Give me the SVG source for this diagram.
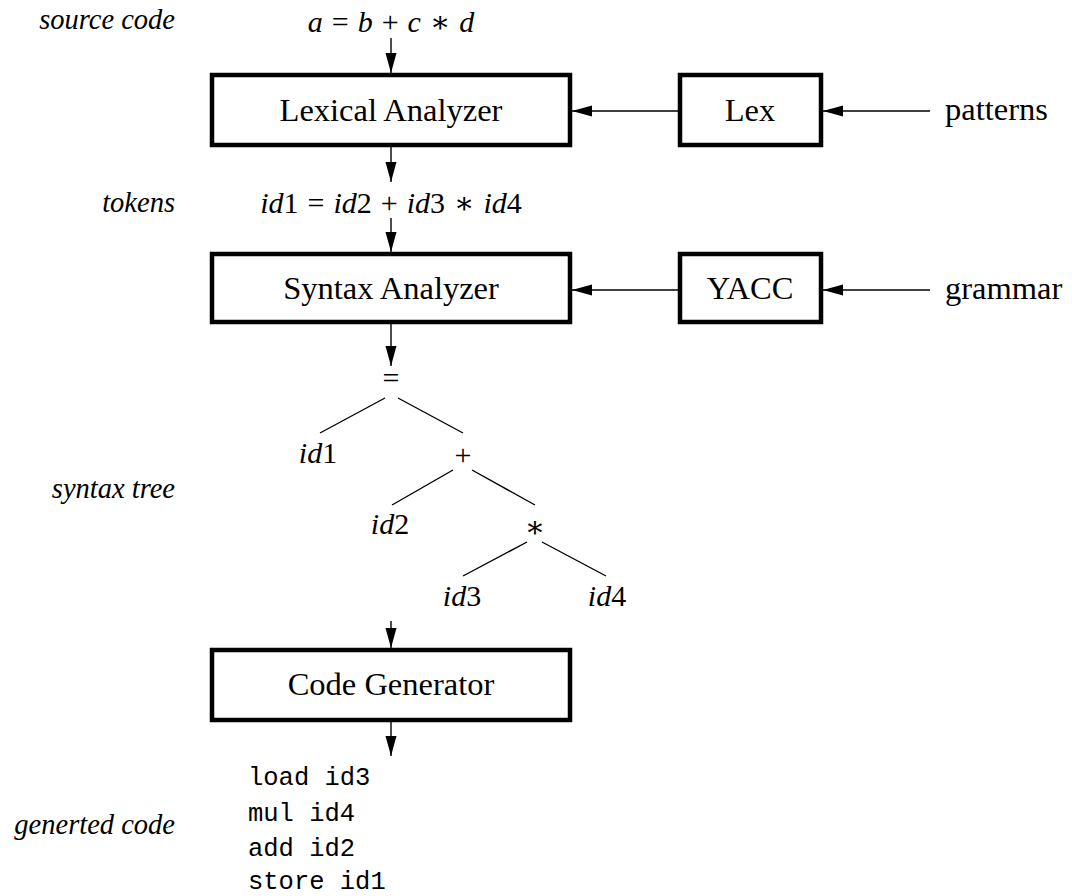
<svg xmlns="http://www.w3.org/2000/svg" width="1072" height="896" viewBox="0 0 1072 896">
<defs>
<marker id="ah" markerUnits="userSpaceOnUse" markerWidth="20" markerHeight="12" refX="20" refY="5.5" orient="auto">
<path d="M0,0 L20,5.5 L0,11 z" fill="#000"/>
</marker>
<style>
.box{fill:#fff;stroke:#000;stroke-width:4.5}
.lbl{font-family:"Liberation Serif","DejaVu Serif",serif;font-size:32.5px;fill:#000}
.side{font-family:"Liberation Serif","DejaVu Serif",serif;font-size:28.5px;font-style:italic;fill:#000;text-anchor:end}
.math{font-family:"Liberation Serif","DejaVu Serif",serif;font-size:30px;fill:#000;text-anchor:middle;word-spacing:1.5px}
.math .v{font-style:italic}
.code{font-family:"Liberation Mono","DejaVu Sans Mono",monospace;font-size:25.5px;fill:#000}
.arr{stroke:#000;stroke-width:1.4;fill:none;marker-end:url(#ah)}
.edge{stroke:#000;stroke-width:1.4;fill:none}
.c{text-anchor:middle}
</style>
</defs>
<rect width="1072" height="896" fill="#fff"/>

<g id="side-labels">
<text class="side" x="175" y="29">source code</text>
<text class="side" x="175" y="212">tokens</text>
<text class="side" x="175" y="498">syntax tree</text>
<text class="side" x="175" y="834">generted code</text>
</g>

<g id="source-expr">
<text class="math" x="391" y="32"><tspan class="v">a</tspan> = <tspan class="v">b</tspan> + <tspan class="v">c</tspan> ∗ <tspan class="v">d</tspan></text>
</g>

<g id="lexical-analyzer">
<rect class="box" x="212" y="75" width="358" height="70"/>
<text class="lbl c" x="391" y="121">Lexical Analyzer</text>
</g>

<g id="lex">
<rect class="box" x="680" y="75" width="141" height="70"/>
<text class="lbl c" x="750" y="121">Lex</text>
</g>

<g id="patterns">
<text class="lbl" x="945" y="120">patterns</text>
</g>

<g id="tokens-expr">
<text class="math" x="391" y="213"><tspan class="v">id</tspan>1 = <tspan class="v">id</tspan>2 + <tspan class="v">id</tspan>3 ∗ <tspan class="v">id</tspan>4</text>
</g>

<g id="syntax-analyzer">
<rect class="box" x="212" y="254" width="358" height="68"/>
<text class="lbl c" x="391" y="299">Syntax Analyzer</text>
</g>

<g id="yacc">
<rect class="box" x="680" y="254" width="141" height="68"/>
<text class="lbl c" x="750" y="299">YACC</text>
</g>

<g id="grammar">
<text class="lbl" x="945" y="299">grammar</text>
</g>

<g id="syntax-tree">
<text class="math" x="391" y="388">=</text>
<text class="math" x="318" y="463"><tspan class="v">id</tspan>1</text>
<text class="math" x="463" y="465">+</text>
<text class="math" x="390" y="534"><tspan class="v">id</tspan>2</text>
<text class="math" x="535" y="537">∗</text>
<text class="math" x="462" y="606"><tspan class="v">id</tspan>3</text>
<text class="math" x="607" y="606"><tspan class="v">id</tspan>4</text>
<path class="edge" d="M385,398 L320,433 M398,398 L463,433 M453,470 L392,505 M472,470 L535,505 M527,542 L463,576 M542,542 L606,576"/>
</g>

<g id="code-generator">
<rect class="box" x="212" y="650" width="358" height="70"/>
<text class="lbl c" x="391" y="695">Code Generator</text>
</g>

<g id="generated-code">
<text class="code" x="248" y="785">load id3</text>
<text class="code" x="248" y="821">mul id4</text>
<text class="code" x="248" y="856">add id2</text>
<text class="code" x="248" y="889">store id1</text>
</g>

<g id="connectors">
<line class="arr" x1="391" y1="38" x2="391" y2="73"/>
<line class="arr" x1="391" y1="147" x2="391" y2="182"/>
<line class="arr" x1="391" y1="218" x2="391" y2="252"/>
<line class="arr" x1="391" y1="324" x2="391" y2="366"/>
<line class="arr" x1="391" y1="621" x2="391" y2="648"/>
<line class="arr" x1="391" y1="722" x2="391" y2="756"/>
<line class="arr" x1="678" y1="111" x2="572" y2="111"/>
<line class="arr" x1="930" y1="111" x2="823" y2="111"/>
<line class="arr" x1="678" y1="290" x2="572" y2="290"/>
<line class="arr" x1="930" y1="290" x2="823" y2="290"/>
</g>
</svg>
